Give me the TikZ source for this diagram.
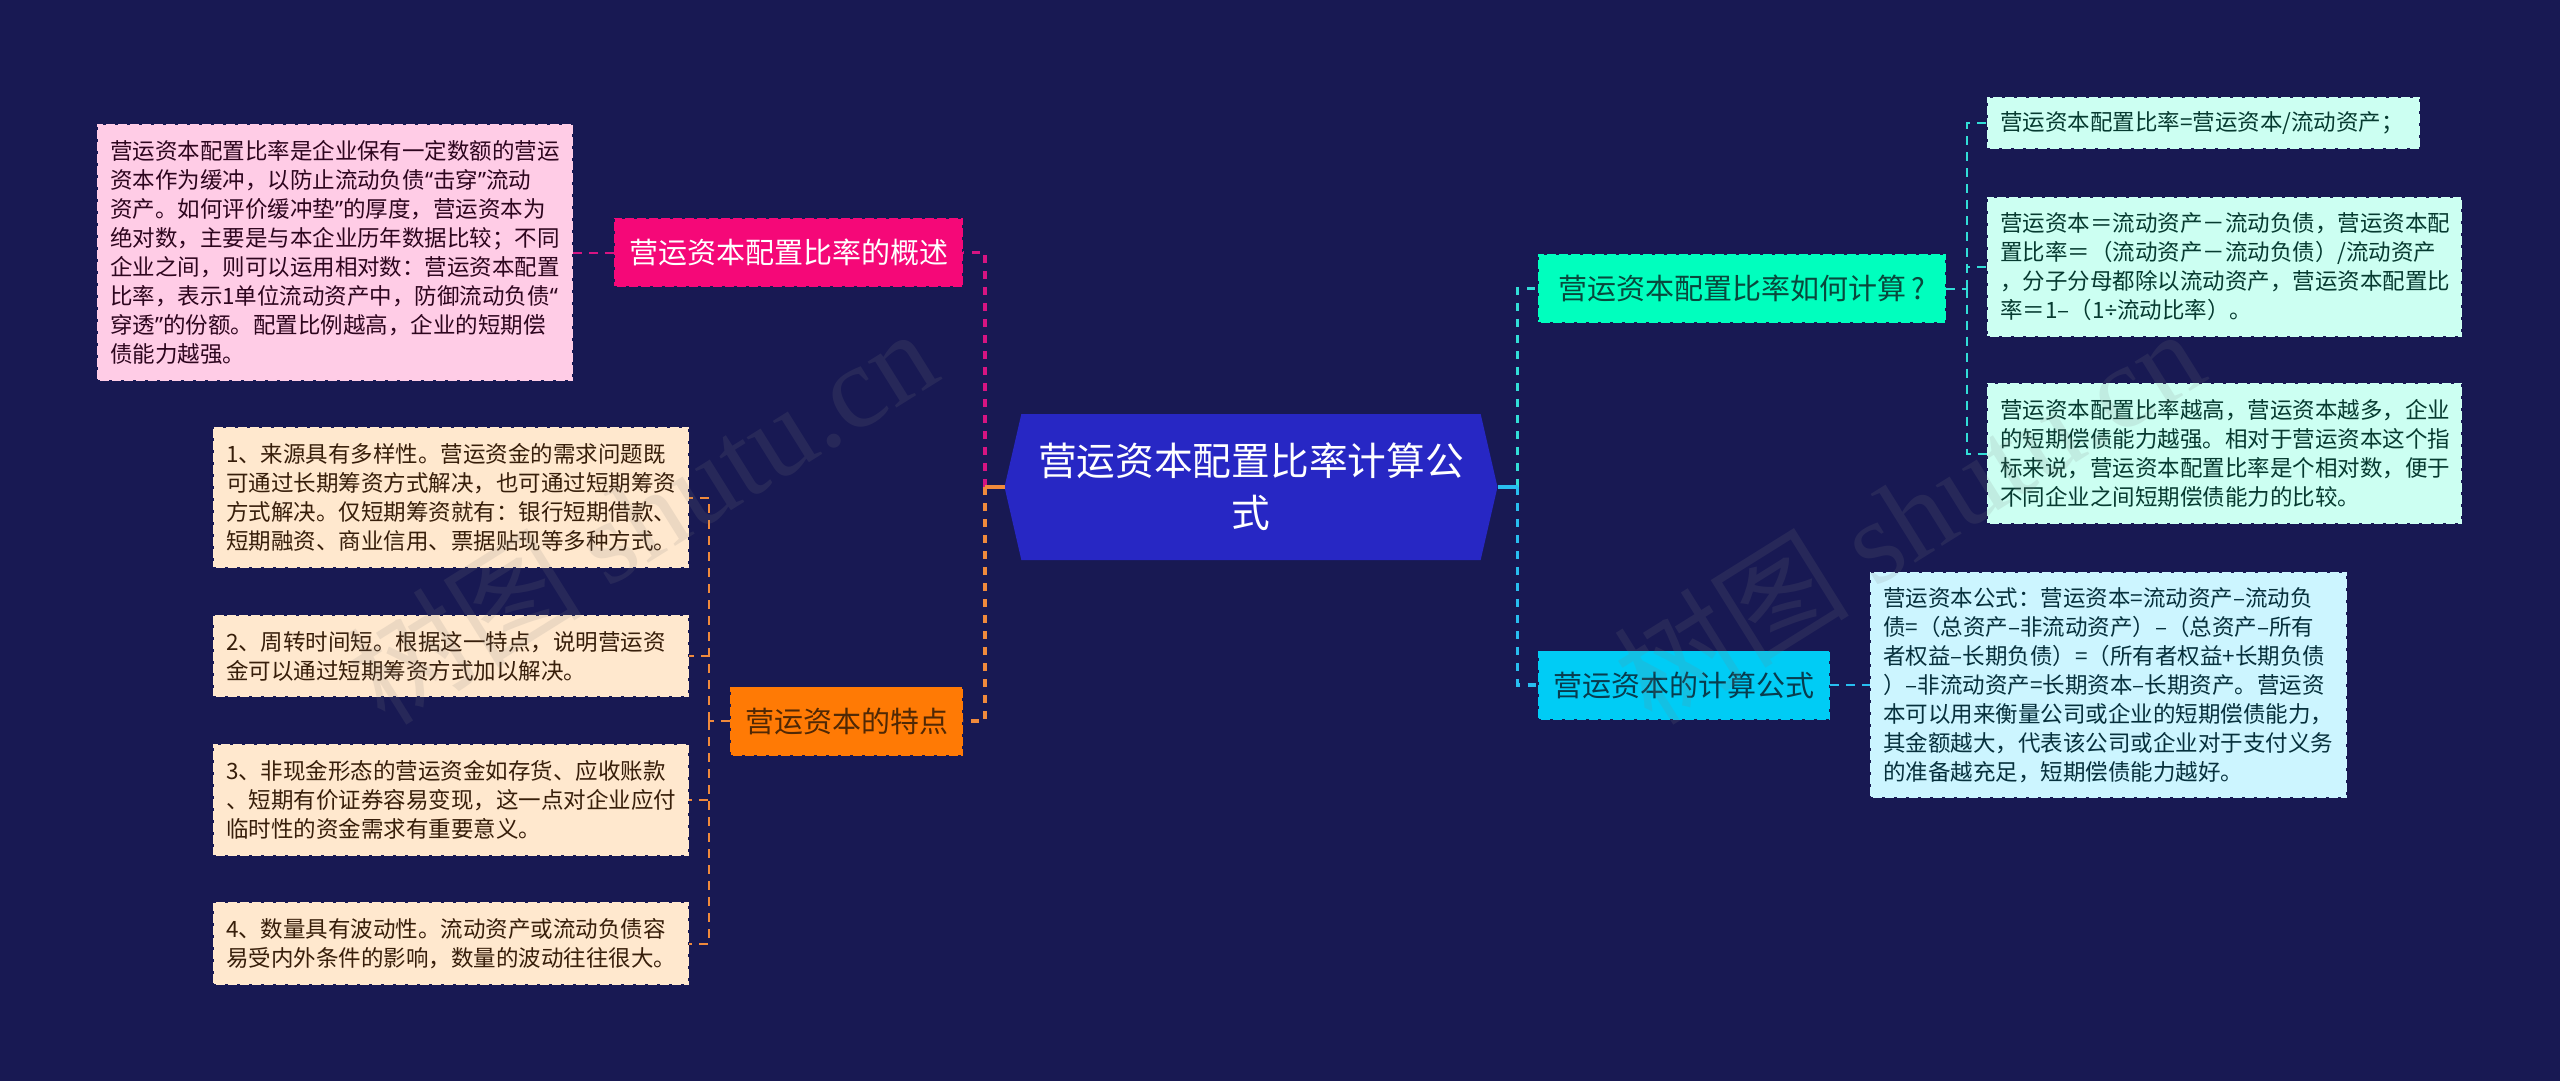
\documentclass[tikz,border=0pt]{standalone}
\usepackage{fontspec}
\setmainfont{Noto Sans CJK SC}
\newfontfamily\wmfont{Liberation Serif}
\newfontfamily\qfont{Noto Sans}
\newcommand{\qopen}{{\qfont “}}
\newcommand{\qclose}{{\qfont ”}}
\newcommand{\qdiv}{{\qfont ÷}}
% full width punctuation
\newcommand{\fwc}{\symbol{"FF0C}}
\newcommand{\fws}{\symbol{"FF1B}}
\newcommand{\fwk}{\symbol{"FF1A}}
\newcommand{\fwl}{\symbol{"FF08}}
\newcommand{\fwr}{\symbol{"FF09}}
\newcommand{\fwe}{\symbol{"FF1D}}
\newcommand{\fwm}{\symbol{"FF0D}}
\usetikzlibrary{positioning,shapes.symbols}
\definecolor{mybg}{RGB}{24,25,83}
\definecolor{myroot}{RGB}{39,39,196}
\definecolor{mypink}{RGB}{245,8,120}
\definecolor{mypinkleaf}{RGB}{255,204,230}
\definecolor{mypinkline}{RGB}{214,20,130}
\definecolor{myorange}{RGB}{255,122,5}
\definecolor{myorangeleaf}{RGB}{255,232,206}
\definecolor{myorangeline}{RGB}{240,138,60}
\definecolor{myteal}{RGB}{0,255,190}
\definecolor{mytealleaf}{RGB}{204,255,242}
\definecolor{mytealline}{RGB}{50,222,215}
\definecolor{myblue}{RGB}{0,204,245}
\definecolor{myblueleaf}{RGB}{204,245,255}
\definecolor{myblueline}{RGB}{40,190,240}

\begin{document}
\begin{tikzpicture}[x=1pt,y=-1pt,
  every node/.style={outer sep=0pt},
  notch/.style={draw=mybg,line width=1.5pt,dash pattern=on 3pt off 9pt},
  rootnode/.style={signal,signal to=west and east,signal pointer angle=154,fill=myroot,text=white,
    minimum width=493pt,minimum height=146pt,inner sep=0pt,align=center,
    font=\fontsize{38.7pt}{52pt}\selectfont},
  topicnode/.style={notch,anchor=west,minimum height=69pt,inner xsep=0pt,
    font=\fontsize{29pt}{36pt}\selectfont},
  leafnode/.style={notch,anchor=west,inner xsep=13pt,inner ysep=0pt,align=left,
    font=\fontsize{22.5pt}{29pt}\selectfont},
  pinkleaf/.style={leafnode,fill=mypinkleaf,text={rgb,255:red,45;green,5;blue,30}},
  orangeleaf/.style={leafnode,fill=myorangeleaf,text={rgb,255:red,55;green,30;blue,10}},
  tealleaf/.style={leafnode,fill=mytealleaf,text={rgb,255:red,6;green,58;blue,48}},
  blueleaf/.style={leafnode,fill=myblueleaf,text={rgb,255:red,6;green,48;blue,60}},
  rootline/.style={line width=3.5pt,dash pattern=on 8pt off 8pt},
  leafline/.style={line width=2pt,dash pattern=on 9pt off 7pt},
  watermark/.style={rotate=32,text=gray,text opacity=0.15,font=\fontsize{118pt}{118pt}\selectfont}
]
\fill[mybg] (0,0) rectangle (2560,1081);
\useasboundingbox (0,0) rectangle (2560,1081);

% the root
\node[rootnode] (root) at (1251,487) {营运资本配置比率计算公\\式};

% the topics
\node[topicnode,fill=mypink,text=white,minimum width=349pt] (pink) at (614,252.5) {营运资本配置比率的概述};
\node[topicnode,fill=myorange,text={rgb,255:red,80;green,40;blue,5},minimum width=233pt] (orange) at (730,721) {营运资本的特点};
\node[topicnode,fill=myteal,text={rgb,255:red,8;green,72;blue,60},minimum width=408pt] (teal) at (1538,288.5) {营运资本配置比率如何计算\hspace{5pt}?\hspace{6pt}};
\node[topicnode,fill=myblue,text={rgb,255:red,8;green,60;blue,78},minimum width=292pt] (blue) at (1538,685) {营运资本的计算公式};

% the pink leaf
\node[pinkleaf,text width=450pt,minimum height=257pt] (p1) at (97,252.5) {营运资本配置比率是企业保有一定数额的营运\\
资本作为缓冲\fwc{}以防止流动负债\qopen 击穿\qclose 流动\\
资产。如何评价缓冲垫\qclose 的厚度\fwc{}营运资本为\\
绝对数\fwc{}主要是与本企业历年数据比较\fws{}不同\\
企业之间\fwc{}则可以运用相对数\fwk{}营运资本配置\\
比率\fwc{}表示1单位流动资产中\fwc{}防御流动负债\qopen\\
穿透\qclose 的份额。配置比例越高\fwc{}企业的短期偿\\
债能力越强。};

% the orange leaves
\foreach \i/\ypos/\hgt/\txt in {
  1/497.5/141/{1、来源具有多样性。营运资金的需求问题既\\可通过长期筹资方式解决\fwc{}也可通过短期筹资\\方式解决。仅短期筹资就有\fwk{}银行短期借款、\\短期融资、商业信用、票据贴现等多种方式。},
  2/656/82/{2、周转时间短。根据这一特点\fwc{}说明营运资\\金可以通过短期筹资方式加以解决。},
  3/800/112/{3、非现金形态的营运资金如存货、应收账款\\、短期有价证券容易变现\fwc{}这一点对企业应付\\临时性的资金需求有重要意义。},
  4/943.5/83/{4、数量具有波动性。流动资产或流动负债容\\易受内外条件的影响\fwc{}数量的波动往往很大。}}
  \node[orangeleaf,text width=450pt,minimum height=\hgt pt] (o\i) at (213,\ypos) {\txt};

% the teal leaves
\node[tealleaf,text width=407pt,minimum height=52pt] (t1) at (1987,123) {营运资本配置比率=营运资本/流动资产\fws};
\node[tealleaf,text width=449pt,minimum height=140pt] (t2) at (1987,267) {营运资本\fwe{}流动资产\fwm{}流动负债\fwc{}营运资本配\\
置比率\fwe\fwl{}流动资产\fwm{}流动负债\fwr{}/流动资产\\
\fwc{}分子分母都除以流动资产\fwc{}营运资本配置比\\
率\fwe{}1–\fwl{}1\qdiv{}流动比率\fwr{}。};
\node[tealleaf,text width=449pt,minimum height=141pt] (t3) at (1987,453.5) {营运资本配置比率越高\fwc{}营运资本越多\fwc{}企业\\
的短期偿债能力越强。相对于营运资本这个指\\
标来说\fwc{}营运资本配置比率是个相对数\fwc{}便于\\
不同企业之间短期偿债能力的比较。};

% the blue leaf
\node[blueleaf,text width=451pt,minimum height=226pt] (b1) at (1870,685) {营运资本公式\fwk{}营运资本=流动资产–流动负\\
债=\fwl{}总资产–非流动资产\fwr{}–\fwl{}总资产–所有\\
者权益–长期负债\fwr{}=\fwl{}所有者权益+长期负债\\
\fwr{}–非流动资产=长期资本–长期资产。营运资\\
本可以用来衡量公司或企业的短期偿债能力\fwc\\
其金额越大\fwc{}代表该公司或企业对于支付义务\\
的准备越充足\fwc{}短期偿债能力越好。};

% the joints
\coordinate (ljoint) at (985,487);
\coordinate (rjoint) at (1517.5,487);
\coordinate (ojoint) at (709,721);
\coordinate (tjoint) at (1966.5,288.5);

% the edges
\draw[leafline,mypinkline] (pink.west) -- (p1.east);
\draw[rootline,mypinkline] (ljoint) |- (pink.east);
\draw[rootline,myorangeline] (ljoint) |- (orange.east);
\draw[line width=3.5pt,myorangeline] (root.west) -- (ljoint);
\draw[rootline,mytealline] (rjoint) |- (teal.west);
\draw[rootline,myblueline] (rjoint) |- (blue.west);
\draw[line width=3.5pt,myblueline] (root.east) -- (rjoint);
\draw[leafline,myorangeline] (orange.west) -- (ojoint);
\foreach \i in {1,2,3,4}
  \draw[leafline,myorangeline] (ojoint) |- (o\i.east);
\draw[leafline,mytealline] (teal.east) -- (tjoint);
\foreach \i in {1,2,3}
  \draw[leafline,mytealline] (tjoint) |- (t\i.west);
\draw[leafline,myblueline] (blue.east) -- (b1.west);

% the watermarks
\node[watermark] (wmleft) at (641,515) {树图 {\wmfont shutu.cn}};
\node[watermark] (wmright) at (1908,515) {树图 {\wmfont shutu.cn}};
\end{tikzpicture}
\end{document}
